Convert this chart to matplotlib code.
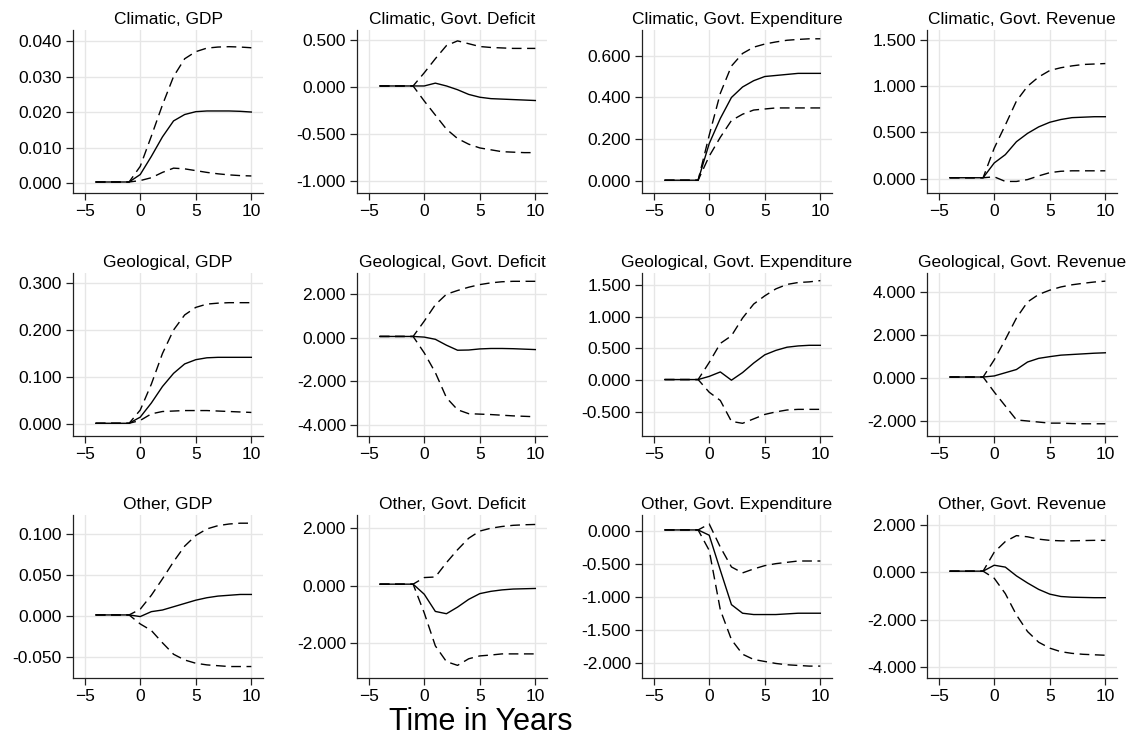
import matplotlib
matplotlib.use("Agg")
import matplotlib.pyplot as plt
import numpy as np

plt.rcParams['font.family'] = ['Liberation Sans', 'DejaVu Sans']

years = list(range(-4, 11))

titles = [
    "Climatic, GDP", "Climatic, Govt. Deficit", "Climatic, Govt. Expenditure", "Climatic, Govt. Revenue",
    "Geological, GDP", "Geological, Govt. Deficit", "Geological, Govt. Expenditure", "Geological, Govt. Revenue",
    "Other, GDP", "Other, Govt. Deficit", "Other, Govt. Expenditure", "Other, Govt. Revenue",
]

# point estimates
irf = [
    [0.0003, 0.0003, 0.0003, 0.0003, 0.0024, 0.0075, 0.013, 0.0175, 0.0193, 0.0201, 0.0203, 0.0203, 0.0203, 0.0202, 0.0200],
    [0.01, 0.01, 0.01, 0.01, 0.01, 0.04, 0.01, -0.03, -0.08, -0.11, -0.125, -0.13, -0.135, -0.14, -0.145],
    [0.005, 0.005, 0.005, 0.005, 0.18, 0.30, 0.40, 0.45, 0.48, 0.50, 0.505, 0.51, 0.515, 0.515, 0.515],
    [0.01, 0.01, 0.01, 0.01, 0.17, 0.26, 0.40, 0.49, 0.56, 0.61, 0.64, 0.66, 0.665, 0.67, 0.67],
    [0.002, 0.002, 0.002, 0.002, 0.015, 0.045, 0.080, 0.108, 0.128, 0.137, 0.141, 0.142, 0.142, 0.142, 0.142],
    [0.05, 0.05, 0.05, 0.05, 0.02, -0.08, -0.35, -0.58, -0.57, -0.52, -0.50, -0.50, -0.51, -0.53, -0.55],
    [0.01, 0.01, 0.01, 0.01, 0.06, 0.13, 0.0, 0.12, 0.27, 0.40, 0.47, 0.52, 0.54, 0.55, 0.55],
    [0.05, 0.05, 0.05, 0.05, 0.10, 0.25, 0.40, 0.75, 0.92, 1.00, 1.07, 1.10, 1.13, 1.16, 1.18],
    [0.001, 0.001, 0.001, 0.001, -0.001, 0.005, 0.007, 0.011, 0.015, 0.019, 0.022, 0.024, 0.025, 0.026, 0.026],
    [0.05, 0.05, 0.05, 0.05, -0.30, -0.90, -0.98, -0.75, -0.48, -0.28, -0.20, -0.15, -0.12, -0.11, -0.10],
    [0.01, 0.01, 0.01, 0.01, -0.07, -0.60, -1.12, -1.25, -1.27, -1.27, -1.27, -1.26, -1.25, -1.25, -1.25],
    [0.05, 0.05, 0.05, 0.05, 0.30, 0.22, -0.15, -0.45, -0.72, -0.92, -1.02, -1.05, -1.06, -1.07, -1.07],
]

upper = [
    [0.0003, 0.0003, 0.0003, 0.0003, 0.0047, 0.0132, 0.022, 0.030, 0.035, 0.037, 0.038, 0.0383, 0.0384, 0.0383, 0.0381],
    [0.01, 0.01, 0.01, 0.01, 0.15, 0.30, 0.44, 0.49, 0.46, 0.43, 0.42, 0.415, 0.41, 0.41, 0.41],
    [0.005, 0.005, 0.005, 0.005, 0.22, 0.42, 0.55, 0.61, 0.64, 0.655, 0.665, 0.673, 0.677, 0.68, 0.68],
    [0.01, 0.01, 0.01, 0.01, 0.33, 0.58, 0.84, 1.00, 1.10, 1.17, 1.20, 1.22, 1.235, 1.24, 1.245],
    [0.002, 0.002, 0.002, 0.002, 0.03, 0.085, 0.150, 0.200, 0.232, 0.248, 0.255, 0.257, 0.258, 0.258, 0.258],
    [0.05, 0.05, 0.05, 0.05, 0.75, 1.50, 1.98, 2.15, 2.30, 2.42, 2.50, 2.55, 2.57, 2.57, 2.57],
    [0.01, 0.01, 0.01, 0.01, 0.28, 0.58, 0.70, 0.98, 1.20, 1.33, 1.44, 1.51, 1.54, 1.55, 1.57],
    [0.05, 0.05, 0.05, 0.05, 0.85, 1.80, 2.80, 3.55, 3.90, 4.10, 4.25, 4.35, 4.42, 4.48, 4.52],
    [0.001, 0.001, 0.001, 0.001, 0.008, 0.025, 0.045, 0.066, 0.085, 0.098, 0.106, 0.110, 0.112, 0.113, 0.113],
    [0.05, 0.05, 0.05, 0.05, 0.28, 0.30, 0.80, 1.25, 1.65, 1.90, 2.00, 2.06, 2.10, 2.12, 2.13],
    [0.01, 0.01, 0.01, 0.01, 0.10, -0.25, -0.55, -0.64, -0.58, -0.53, -0.50, -0.48, -0.46, -0.46, -0.46],
    [0.05, 0.05, 0.05, 0.05, 0.85, 1.30, 1.55, 1.50, 1.40, 1.35, 1.33, 1.33, 1.34, 1.35, 1.35],
]

lower = [
    [0.0003, 0.0003, 0.0003, 0.0003, 0.0007, 0.0015, 0.0030, 0.0042, 0.0040, 0.0035, 0.0030, 0.0026, 0.0023, 0.0021, 0.0020],
    [0.01, 0.01, 0.01, 0.01, -0.15, -0.30, -0.45, -0.55, -0.61, -0.65, -0.67, -0.69, -0.695, -0.70, -0.70],
    [0.005, 0.005, 0.005, 0.005, 0.12, 0.21, 0.29, 0.32, 0.34, 0.345, 0.35, 0.35, 0.35, 0.35, 0.35],
    [0.01, 0.01, 0.01, 0.01, 0.02, -0.03, -0.03, -0.01, 0.03, 0.065, 0.08, 0.085, 0.085, 0.085, 0.085],
    [0.002, 0.002, 0.002, 0.002, 0.008, 0.022, 0.027, 0.028, 0.029, 0.029, 0.029, 0.028, 0.027, 0.026, 0.025],
    [0.05, 0.05, 0.05, 0.05, -0.70, -1.60, -2.75, -3.30, -3.48, -3.50, -3.52, -3.55, -3.58, -3.60, -3.62],
    [0.01, 0.01, 0.01, 0.01, -0.19, -0.32, -0.65, -0.68, -0.61, -0.54, -0.50, -0.47, -0.46, -0.46, -0.46],
    [0.05, 0.05, 0.05, 0.05, -0.65, -1.30, -1.95, -2.00, -2.05, -2.10, -2.10, -2.12, -2.13, -2.13, -2.13],
    [0.001, 0.001, 0.001, 0.001, -0.010, -0.018, -0.033, -0.047, -0.054, -0.058, -0.060, -0.061, -0.062, -0.062, -0.062],
    [0.05, 0.05, 0.05, 0.05, -0.95, -2.10, -2.65, -2.78, -2.55, -2.45, -2.42, -2.38, -2.38, -2.38, -2.38],
    [0.01, 0.01, 0.01, 0.01, -0.30, -1.20, -1.65, -1.87, -1.95, -1.98, -2.01, -2.03, -2.04, -2.05, -2.05],
    [0.05, 0.05, 0.05, 0.05, -0.25, -0.90, -1.80, -2.50, -2.95, -3.20, -3.35, -3.42, -3.46, -3.48, -3.50],
]

yticks = [
    [0, 0.01, 0.02, 0.03, 0.04],
    [-1, -0.5, 0, 0.5],
    [0, 0.2, 0.4, 0.6],
    [0, 0.5, 1, 1.5],
    [0, 0.1, 0.2, 0.3],
    [-4, -2, 0, 2],
    [-0.5, 0, 0.5, 1, 1.5],
    [-2, 0, 2, 4],
    [-0.05, 0, 0.05, 0.1],
    [-2, 0, 2],
    [-2, -1.5, -1, -0.5, 0],
    [-4, -2, 0, 2],
]

ylims = [
    (-0.0028, 0.0431), (-1.13, 0.606), (-0.056, 0.722), (-0.155, 1.608),
    (-0.025, 0.321), (-4.5, 2.95), (-0.88, 1.69), (-2.7, 4.9),
    (-0.076, 0.123), (-3.22, 2.46), (-2.23, 0.236), (-4.46, 2.42),
]

xticks = [-5, 0, 5, 10]

W, H = 1131, 746
fig = plt.figure(figsize=(W / 100, H / 100), dpi=100)

lefts = [73, 357, 642, 927]
tops = [30, 273, 515]
aw, ah = 190, 163

grid_col = "#e6e6e6"
for i in range(12):
    r, c = divmod(i, 4)
    ax = fig.add_axes([lefts[c] / W, 1 - (tops[r] + ah) / H, aw / W, ah / H])
    ax.set_xlim(-6.05, 11.05)
    ax.set_ylim(*ylims[i])
    ax.set_xticks(xticks)
    ax.set_yticks(yticks[i])
    ax.set_yticklabels(["%.3f" % v for v in yticks[i]])
    ax.grid(True, color=grid_col, linewidth=1.0, zorder=0)
    ax.set_axisbelow(True)
    for s in ["top", "right"]:
        ax.spines[s].set_visible(False)
    for s in ["left", "bottom"]:
        ax.spines[s].set_color("#222222")
        ax.spines[s].set_linewidth(0.9)
    ax.tick_params(labelsize=12.5, length=5, width=0.9, color="#222222", pad=3)

    ax.plot(years, upper[i], color="black", lw=1.0, linestyle=(0, (7, 4)))
    ax.plot(years, lower[i], color="black", lw=1.0, linestyle=(0, (7, 4)))
    ax.plot(years, irf[i], color="black", lw=1.0)
    ax.set_title(titles[i], fontsize=12.5, pad=4)

fig.text(481 / W, 1 - 722 / H, "Time in Years", fontsize=22, ha="center", va="center")

fig.savefig("out.png", dpi=100, facecolor="white")
